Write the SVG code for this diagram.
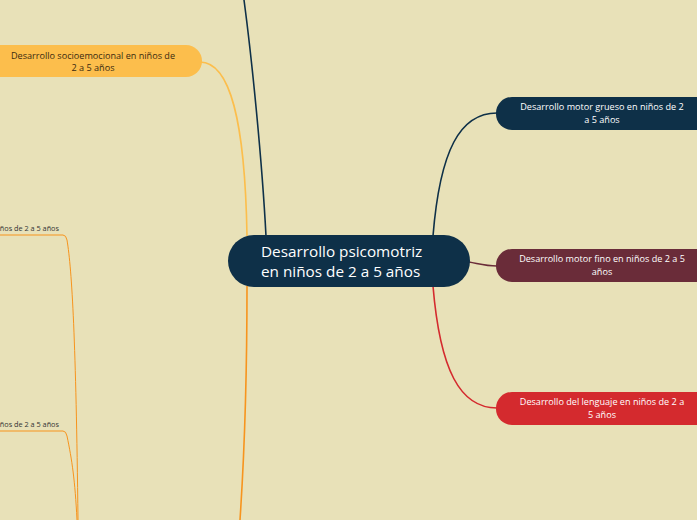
<svg xmlns="http://www.w3.org/2000/svg" width="697" height="520" viewBox="0 0 697 520">
<style>
text{font-family:"Open Sans","Liberation Sans",sans-serif}
.c{fill:none;stroke-width:1.6}
.s{fill:none;stroke-width:1;stroke:#F7941D}
.t{font-size:9.1px;fill:#ffffff;text-anchor:middle}
.d{font-size:9.1px;fill:#3a2a10;text-anchor:middle}
.m{font-size:7.3px;fill:#333;text-anchor:end}
</style>
<rect width="697" height="520" fill="#E8E1B8"/>
<g id="connectors">
<path class="c" stroke="#0E3048" d="M244,0 C252,60 262,160 266,236"/>
<path class="c" stroke="#FCBE4C" d="M200,62 C230,62 245,120 247,236"/>
<path class="c" stroke="#F7941D" d="M247,286 C247,380 244,460 240,520"/>
<path class="c" stroke="#0E3048" d="M433,236 C440,150 460,113 497,113"/>
<path class="c" stroke="#6A2C39" d="M469,262 C480,264 486,266 497,266"/>
<path class="c" stroke="#D42A2E" d="M433,286 C440,370 460,408 497,408"/>
<path class="s" d="M0,235 H63 Q66,235 67,240 C72,270 76,340 78,520"/>
<path class="s" d="M0,431 H63 Q66,431 67,436 C72,460 75,480 77,520"/>
</g>
<g id="center">
<rect x="228" y="235" width="242" height="52" rx="26" fill="#0E3048"/>
<text x="261" y="257" font-size="15.3" fill="#fff">Desarrollo psicomotriz</text>
<text x="261" y="277" font-size="15.3" fill="#fff">en niños de 2 a 5 años</text>
</g>
<g id="socioemocional">
<rect x="-20" y="45" width="222" height="32" rx="16" fill="#FCBE4C"/>
<text class="d" x="93" y="59">Desarrollo socioemocional en niños de</text>
<text class="d" x="93" y="71">2 a 5 años</text>
</g>
<g id="sub1">
<text class="m" x="59" y="231">ños de 2 a 5 años</text>
</g>
<g id="sub2">
<text class="m" x="59" y="427">ños de 2 a 5 años</text>
</g>
<g id="grueso">
<rect x="496" y="97" width="230" height="33" rx="16" fill="#0E3048"/>
<text class="t" x="602" y="110">Desarrollo motor grueso en niños de 2</text>
<text class="t" x="602" y="123">a 5 años</text>
</g>
<g id="fino">
<rect x="496" y="249" width="230" height="33" rx="16" fill="#6A2C39"/>
<text class="t" x="602" y="262">Desarrollo motor fino en niños de 2 a 5</text>
<text class="t" x="602" y="275">años</text>
</g>
<g id="lenguaje">
<rect x="496" y="392" width="230" height="33" rx="16" fill="#D42A2E"/>
<text class="t" x="602" y="405">Desarrollo del lenguaje en niños de 2 a</text>
<text class="t" x="602" y="418">5 años</text>
</g>
</svg>
